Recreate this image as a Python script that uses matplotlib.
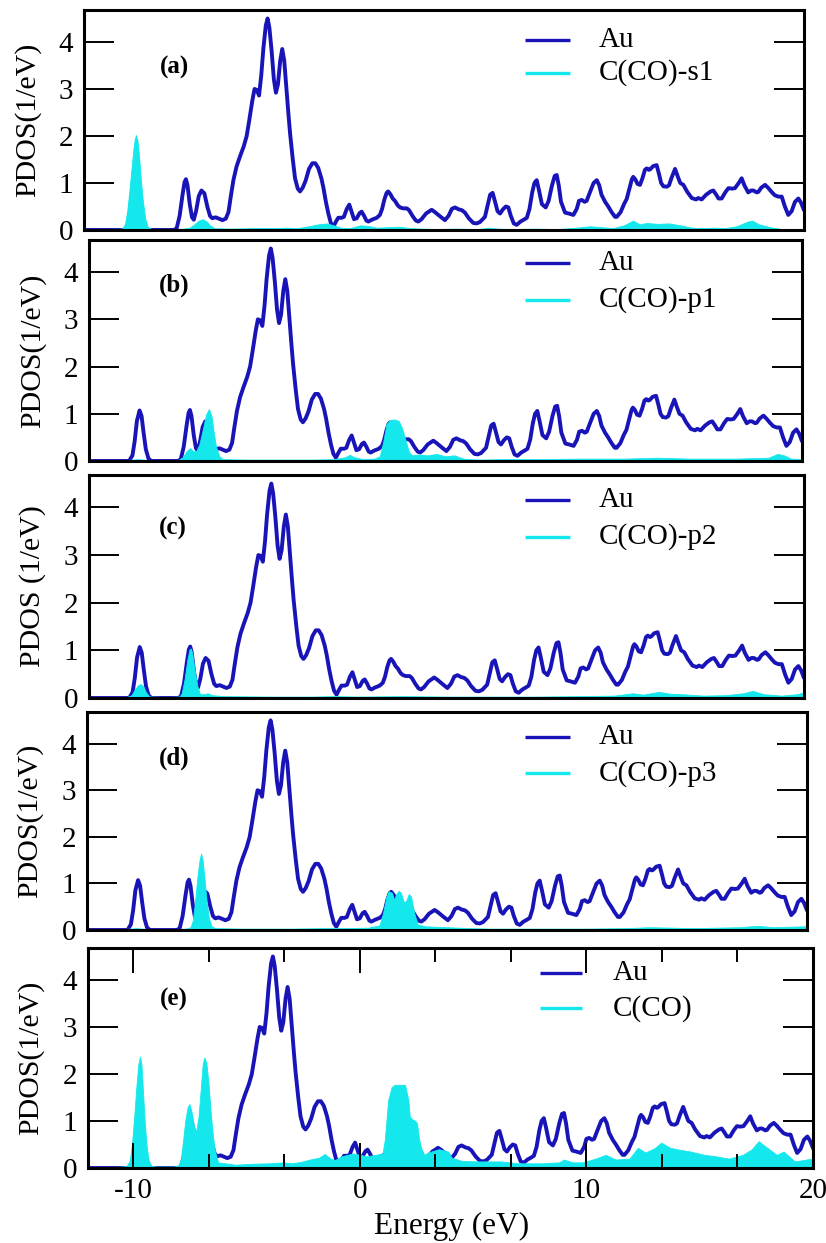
import matplotlib
matplotlib.use("Agg")
import matplotlib.pyplot as plt
from matplotlib.ticker import MultipleLocator

plt.rcParams['font.family'] = ['Liberation Serif', 'DejaVu Serif']
plt.rcParams['axes.unicode_minus'] = False

# ---------------- data ----------------
au_energy = [-12.0, -10.4, -10.2, -10.05, -9.95, -9.85, -9.73, -9.64, -9.55, -9.45, -9.33, -9.2,
             -8.0, -7.88, -7.75, -7.62, -7.53, -7.47, -7.40, -7.30, -7.20, -7.12, -7.02, -6.90,
             -6.78, -6.65, -6.52, -6.40, -6.30, -6.15, -6.0, -5.85, -5.70, -5.58, -5.48, -5.36,
             -5.22, -5.07, -4.90, -4.77, -4.65, -4.52, -4.42, -4.32, -4.22, -4.12, -4.03, -3.92,
             -3.84, -3.76, -3.66, -3.56, -3.47, -3.38, -3.28, -3.19, -3.10, -3.02, -2.92, -2.84,
             -2.72, -2.62, -2.50, -2.40, -2.28, -2.15, -2.0, -1.85, -1.72, -1.59, -1.45, -1.36,
             -1.25, -1.14, -1.03, -0.92, -0.80, -0.70, -0.55, -0.45, -0.32, -0.21, -0.10, 0.0,
             0.12, 0.25, 0.34, 0.45, 0.55, 0.64, 0.8, 1.01, 1.15, 1.25, 1.35, 1.45, 1.52, 1.62,
             1.72, 1.82, 1.95, 2.05, 2.19, 2.35, 2.45, 2.6, 2.75, 2.86, 3.0, 3.2, 3.45, 3.6, 3.8,
             4.04, 4.2, 4.35, 4.49, 4.65, 4.8, 4.93, 5.1, 5.3, 5.45, 5.6, 5.82, 5.95, 6.05, 6.16,
             6.27, 6.38, 6.49, 6.62, 6.75, 6.86, 6.97, 7.1, 7.23, 7.4, 7.55, 7.68, 7.8, 7.92,
             8.02, 8.12, 8.22, 8.35, 8.52, 8.65, 8.8, 8.92, 9.01, 9.1, 9.2, 9.38, 9.55, 9.75,
             9.9, 10.0, 10.12, 10.25, 10.34, 10.5, 10.65, 10.79, 10.9, 11.0, 11.16, 11.3, 11.45,
             11.6, 11.68, 11.85, 12.0, 12.12, 12.25, 12.35, 12.41, 12.5, 12.6, 12.71, 12.82,
             12.93, 13.01, 13.1, 13.16, 13.3, 13.45, 13.55, 13.65, 13.75, 13.9, 14.0, 14.12,
             14.27, 14.38, 14.5, 14.64, 14.8, 15.01, 15.2, 15.3, 15.45, 15.65, 15.85, 15.97,
             16.1, 16.2, 16.34, 16.5, 16.64, 16.8, 16.93, 17.1, 17.23, 17.35, 17.52, 17.65,
             17.75, 17.9, 17.97, 18.1, 18.27, 18.4, 18.56, 18.7, 18.86, 19.01, 19.15, 19.3,
             19.45, 19.6, 19.75, 19.87, 20.0]
au_pdos = [0.0, 0.0, 0.0, 0.12, 0.42, 0.85, 1.07, 0.95, 0.6, 0.25, 0.05, 0.0,
           0.0, 0.04, 0.3, 0.75, 1.02, 1.08, 0.95, 0.55, 0.27, 0.22, 0.4, 0.72,
           0.84, 0.78, 0.5, 0.3, 0.25, 0.27, 0.24, 0.21, 0.24, 0.38, 0.7, 1.06,
           1.35, 1.56, 1.78, 2.0, 2.35, 2.75, 3.0, 2.98, 2.86, 3.3, 3.85, 4.35,
           4.5, 4.3, 3.8, 3.2, 2.92, 3.1, 3.6, 3.85, 3.6, 3.1, 2.5, 2.05,
           1.5, 1.1, 0.88, 0.82, 0.9, 1.05, 1.3, 1.42, 1.42, 1.32, 1.1, 0.9,
           0.6, 0.35, 0.15, 0.07, 0.18, 0.26, 0.26, 0.28, 0.45, 0.54, 0.38, 0.23,
           0.25, 0.36, 0.39, 0.3, 0.2, 0.18, 0.22, 0.26, 0.32, 0.45, 0.65, 0.79, 0.82, 0.76,
           0.67, 0.62, 0.52, 0.48, 0.46, 0.46, 0.42, 0.3, 0.2, 0.18, 0.23, 0.35, 0.43, 0.38, 0.3,
           0.21, 0.3, 0.45, 0.48, 0.44, 0.42, 0.37, 0.25, 0.15, 0.14, 0.17, 0.28, 0.55, 0.75, 0.79,
           0.6, 0.4, 0.35, 0.44, 0.5, 0.48, 0.3, 0.14, 0.11, 0.18, 0.22, 0.26, 0.45, 0.8,
           1.0, 1.06, 0.85, 0.55, 0.48, 0.62, 0.95, 1.15, 1.17, 0.95, 0.6, 0.37, 0.35, 0.32,
           0.45, 0.62, 0.64, 0.6, 0.62, 0.82, 1.0, 1.06, 0.95, 0.75, 0.6, 0.5, 0.38,
           0.28, 0.28, 0.38, 0.55, 0.66, 0.9, 1.08, 1.13, 1.08, 0.98, 0.96, 1.1,
           1.28, 1.31, 1.28, 1.29, 1.36, 1.38, 1.2, 1.0, 0.93, 0.92, 0.95, 1.12,
           1.3, 1.15, 1.0, 0.96, 0.82, 0.68, 0.65, 0.68, 0.65, 0.75, 0.82, 0.84,
           0.75, 0.67, 0.67, 0.8, 0.89, 0.88, 0.89, 1.0, 1.1, 0.95, 0.8, 0.84,
           0.84, 0.8, 0.81, 0.9, 0.96, 0.9, 0.81, 0.74, 0.71, 0.71, 0.5, 0.32,
           0.4, 0.6, 0.67, 0.58, 0.42]

s1_energy = [-12.0, -10.8, -10.6, -10.3, -10.18, -10.08, -9.98, -9.9, -9.82, -9.75, -9.69, -9.62,
             -9.55, -9.47, -9.38, -9.28, -9.17, -9.0, -8.0, -7.6, -7.3, -7.1, -6.9, -6.72, -6.55,
             -6.4, -6.2, -5.5, -4.5, -3.5, -3.0, -2.5, -2.0, -1.6, -1.2, -0.9, -0.6, -0.2, 0.3,
             0.7, 1.0, 1.5, 2.0, 2.5, 3.5, 4.5, 5.5, 6.0, 6.4, 7.0, 8.0, 9.0, 9.9, 10.5, 11.0,
             11.5, 12.0, 12.4, 12.7, 13.0, 13.5, 14.0, 14.5, 15.0, 15.5, 16.0, 16.5, 17.0, 17.5,
             17.7, 18.0, 18.5, 19.0, 20.0]
s1_pdos = [0.0, 0.0, 0.02, 0.03, 0.12, 0.4, 0.85, 1.25, 1.65, 1.92, 2.02, 1.9,
           1.55, 1.05, 0.6, 0.25, 0.07, 0.02, 0.02, 0.03, 0.05, 0.12, 0.2, 0.23, 0.18,
           0.1, 0.04, 0.03, 0.04, 0.04, 0.05, 0.04, 0.08, 0.12, 0.14, 0.1, 0.05, 0.04, 0.1,
           0.08, 0.05, 0.06, 0.07, 0.04, 0.02, 0.03, 0.02, 0.05, 0.03, 0.02, 0.03, 0.02, 0.05, 0.08, 0.06,
           0.04, 0.1, 0.2, 0.12, 0.15, 0.13, 0.14, 0.1, 0.05, 0.04, 0.05, 0.04, 0.08, 0.18,
           0.2, 0.12, 0.06, 0.02, 0.0]

p1_energy = [-12.0, -10.6, -10.3, -9.8, -9.3, -8.0, -7.8, -7.6, -7.47, -7.35, -7.2, -7.05, -6.9,
             -6.75, -6.62, -6.5, -6.4, -6.3, -6.15, -6.0, -5.0, -4.0, -3.0, -2.0, -1.0, -0.5,
             -0.3, -0.1, 0.3, 0.8, 1.05, 1.2, 1.35, 1.5, 1.7, 1.9, 2.05, 2.2, 2.35, 2.5, 2.8,
             3.2, 3.6, 4.0, 4.4, 4.8, 5.5, 6.5, 8.0, 10.0, 12.0, 13.5, 15.0, 17.0, 18.5, 18.9,
             19.2, 19.5, 20.0]
p1_pdos = [0.0, 0.0, 0.02, 0.04, 0.02, 0.02, 0.08, 0.22, 0.27, 0.22, 0.2, 0.35, 0.65,
           0.98, 1.1, 0.95, 0.6, 0.3, 0.1, 0.04, 0.03, 0.03, 0.03, 0.03, 0.04, 0.08,
           0.13, 0.08, 0.04, 0.05, 0.1, 0.4, 0.78, 0.87, 0.88, 0.85, 0.7, 0.45, 0.2, 0.12, 0.14,
           0.12, 0.15, 0.1, 0.12, 0.05, 0.03, 0.04, 0.04, 0.05, 0.05, 0.07, 0.05, 0.05, 0.07, 0.15,
           0.12, 0.05, 0.04]

p2_energy = [-12.0, -10.6, -10.3, -10.1, -9.95, -9.8, -9.69, -9.58, -9.45, -9.3, -8.5, -7.95,
             -7.85, -7.72, -7.6, -7.5, -7.45, -7.38, -7.28, -7.15, -7.03, -6.85, -6.68, -6.5,
             -6.0, -4.0, -2.0, -1.0, 0.0, 2.0, 4.0, 6.0, 8.0, 10.0, 11.5, 12.35, 12.8, 13.5,
             14.0, 14.5, 15.5, 16.5, 17.3, 17.7, 18.2, 19.0, 19.7, 20.0]
p2_pdos = [0.0, 0.0, 0.02, 0.06, 0.18, 0.27, 0.29, 0.25, 0.12, 0.03, 0.02, 0.03,
           0.1, 0.4, 0.8, 1.02, 1.04, 0.95, 0.6, 0.25, 0.08, 0.08, 0.1, 0.06,
           0.04, 0.03, 0.03, 0.04, 0.03, 0.04, 0.03, 0.03, 0.03, 0.04, 0.05, 0.1, 0.07, 0.13,
           0.09, 0.08, 0.05, 0.06, 0.1, 0.15, 0.08, 0.05, 0.08, 0.12]

p3_energy = [-12.0, -10.6, -10.3, -9.8, -9.3, -8.0, -7.6, -7.4, -7.3, -7.2, -7.1, -7.0, -6.93,
             -6.86, -6.78, -6.68, -6.58, -6.46, -6.3, -5.0, -3.0, -1.5, -0.5, 0.5, 1.0, 1.15,
             1.3, 1.4, 1.55, 1.65, 1.75, 1.85, 1.95, 2.08, 2.18, 2.3, 2.4, 2.55, 2.7, 3.0, 4.0,
             5.0, 6.0, 8.0, 10.0, 12.0, 13.0, 14.0, 15.0, 16.0, 17.0, 17.8, 18.5, 19.2, 20.0]
p3_pdos = [0.0, 0.0, 0.02, 0.04, 0.02, 0.02, 0.03, 0.06, 0.2, 0.6, 1.1, 1.5, 1.64,
           1.5, 1.1, 0.6, 0.25, 0.08, 0.04, 0.03, 0.03, 0.04, 0.04, 0.05, 0.1, 0.35,
           0.7, 0.83, 0.8, 0.65, 0.78, 0.84, 0.8, 0.6, 0.62, 0.77, 0.72, 0.35, 0.12, 0.08, 0.06,
           0.04, 0.03, 0.03, 0.03, 0.04, 0.06, 0.05, 0.04, 0.05, 0.06, 0.09, 0.06, 0.07, 0.08]

tot_energy = [-12.0, -10.8, -10.7, -10.3, -10.16, -10.06, -9.96, -9.87, -9.78, -9.71, -9.64, -9.57,
              -9.5, -9.42, -9.33, -9.22, -9.0, -8.2, -8.0, -7.9, -7.81, -7.71, -7.6, -7.52, -7.43,
              -7.33, -7.22, -7.12, -7.02, -6.94, -6.87, -6.78, -6.68, -6.58, -6.5, -6.42, -6.34,
              -6.25, -5.5, -4.8, -4.0, -3.4, -3.0, -2.6, -2.2, -1.8, -1.55, -1.3, -1.1, -0.8, -0.3,
              0.3, 0.7, 1.0, 1.1, 1.25, 1.4, 1.54, 1.8, 1.99, 2.07, 2.14, 2.2, 2.3, 2.45, 2.52,
              2.62, 2.72, 2.85, 3.0, 3.5, 3.9, 4.05, 4.5, 5.2, 6.2, 7.0, 8.0, 8.8, 9.0, 9.4, 9.84,
              10.4, 10.85, 11.3, 11.9, 12.27, 12.6, 13.0, 13.3, 13.7, 14.1, 14.6, 15.2, 15.7,
              16.3, 16.9, 17.3, 17.6, 17.9, 18.4, 18.7, 19.2, 19.7, 20.0]
tot_pdos = [0.0, 0.0, 0.02, 0.04, 0.15, 0.5, 1.1, 1.7, 2.2, 2.37, 2.2, 1.6,
            1.0, 0.5, 0.18, 0.05, 0.03, 0.03, 0.06, 0.2, 0.55, 1.0, 1.3, 1.36, 1.2,
            0.9, 0.78, 1.1, 1.7, 2.2, 2.35, 2.25, 1.8, 1.15, 0.75, 0.42, 0.25,
            0.12, 0.07, 0.09, 0.1, 0.12, 0.1, 0.13, 0.18, 0.22, 0.3, 0.2, 0.17, 0.25, 0.31,
            0.25, 0.28, 0.31, 0.6, 1.45, 1.72, 1.77, 1.77, 1.77, 1.6, 1.45, 1.1, 1.04, 1.0, 0.95,
            0.6, 0.4, 0.28, 0.33, 0.4, 0.35, 0.22, 0.15, 0.14, 0.14, 0.1, 0.1, 0.12, 0.18, 0.12, 0.12,
            0.2, 0.28, 0.18, 0.2, 0.43, 0.33, 0.42, 0.54, 0.43, 0.39, 0.35, 0.28, 0.25,
            0.2, 0.28, 0.4, 0.57, 0.46, 0.28, 0.35, 0.14, 0.18, 0.2]

panel_tags = ['(a)', '(b)', '(c)', '(d)', '(e)']
legend_labels = ['C(CO)-s1', 'C(CO)-p1', 'C(CO)-p2', 'C(CO)-p3', 'C(CO)']
y_labels = ['PDOS(1/eV)', 'PDOS(1/eV)', 'PDOS (1/eV)', 'PDOS(1/eV)', 'PDOS(1/eV)']
y_ticks = [0, 1, 2, 3, 4]
x_ticks = [-10, 0, 10, 20]
x_tick_labels = ['-10', '0', '10', '20']
series_label_au = 'Au'
x_label = 'Energy (eV)'

cyan_energy = [s1_energy, p1_energy, p2_energy, p3_energy, tot_energy]
cyan_pdos = [s1_pdos, p1_pdos, p2_pdos, p3_pdos, tot_pdos]

# ---------------- layout ----------------
W, H = 826, 1243
AU = '#1814b8'
CY = '#14e8ec'

fig = plt.figure(figsize=(W / 100, H / 100), dpi=100)

boxes = [(84, 10, 804, 230), (89, 240, 802, 461), (89, 475, 804, 698),
         (87, 712, 807, 930), (88, 948, 813, 1168)]
tag_pos = [(0.126, 0.74), (0.12, 0.796), (0.117, 0.761), (0.121, 0.788), (0.119, 0.764)]
leg_x = [(0.6125, 0.675, 0.715), (0.611, 0.675, 0.715), (0.61, 0.673, 0.713),
         (0.608, 0.671, 0.711), (0.623, 0.682, 0.724)]
leg_y = [(0.864, 0.714), (0.895, 0.73), (0.888, 0.723), (0.887, 0.72), (0.885, 0.726)]
ylab_x = [27.5, 32.5, 32.5, 29.5, 30.5]

for i in range(5):
    L, T, R, B = boxes[i]
    ax = fig.add_axes([L / W, 1 - B / H, (R - L) / W, (B - T) / H])
    ax.plot(au_energy, au_pdos, color=AU, lw=2.8, zorder=2.0,
            solid_joinstyle='round', solid_capstyle='round')
    ax.fill_between(cyan_energy[i], 0, cyan_pdos[i], color=CY, lw=0.6, zorder=2.2)
    ax.set_xlim(-12, 20)
    ax.set_ylim(0, 4.68)
    ax.set_axisbelow(False)
    for sp in ax.spines.values():
        sp.set_linewidth(2.2)
        sp.set_zorder(3)

    ax.set_yticks(y_ticks)
    ax.tick_params(axis='y', which='major', direction='in', length=21.6, width=1.4,
                   left=True, right=True, labelsize=21, pad=8)
    if i < 4:
        ax.tick_params(axis='x', which='both', bottom=False, top=False, labelbottom=False)
    else:
        ax.set_xticks(x_ticks, x_tick_labels)
        ax.xaxis.set_minor_locator(MultipleLocator(10 / 3))
        ax.tick_params(axis='x', which='major', direction='in', length=18, width=1.4,
                       top=True, bottom=True, labelsize=21, pad=7)
        ax.tick_params(axis='x', which='minor', direction='in', length=10, width=1.4,
                       top=True, bottom=True)

    tx, ty = tag_pos[i]
    ax.text(tx, ty, panel_tags[i], transform=ax.transAxes, ha='center', va='center',
            fontsize=18, fontweight='bold')

    x0, x1, xt = leg_x[i]
    y1, y2 = leg_y[i]
    ax.plot([x0, x1], [y1, y1], transform=ax.transAxes, color=AU, lw=2.4,
            solid_capstyle='butt', zorder=4)
    ax.plot([x0, x1], [y2, y2], transform=ax.transAxes, color=CY, lw=2.4,
            solid_capstyle='butt', zorder=4)
    ax.text(xt, y1, series_label_au, transform=ax.transAxes, ha='left', va='center', fontsize=21)
    ax.text(xt, y2, legend_labels[i], transform=ax.transAxes, ha='left', va='center', fontsize=21)

    fig.text(ylab_x[i] / W, 1 - ((T + B) / 2) / H, y_labels[i], rotation=90,
             ha='center', va='center', fontsize=21.5)

fig.text(452 / W, 1 - 1226 / H, x_label, ha='center', va='center', fontsize=22.5)

fig.savefig('out.png', dpi=100)
